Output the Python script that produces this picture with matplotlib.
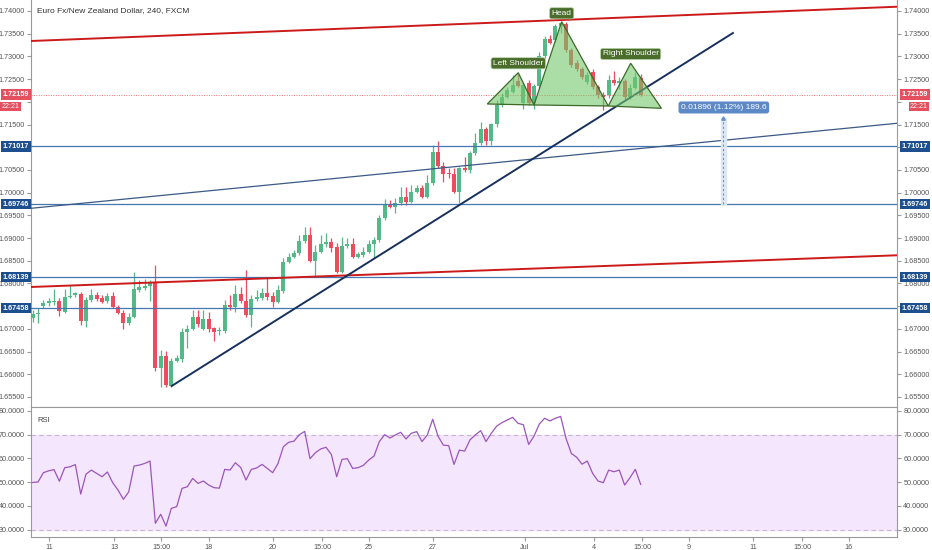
import numpy as np
import matplotlib
matplotlib.use('Agg')
import matplotlib.pyplot as plt
import matplotlib.transforms as mtransforms
from matplotlib.patches import Polygon
from matplotlib.ticker import FormatStrFormatter, FuncFormatter

plt.rcParams['font.family'] = ['Liberation Sans', 'DejaVu Sans']

# EUR/NZD 4h candles (FXCM)
opens = [1.67232, 1.67327, 1.67510, 1.67569, 1.67598, 1.67613, 1.67378, 1.67702, 1.67746, 1.67768,
         1.67180, 1.67636, 1.67746, 1.67680, 1.67613, 1.67724, 1.67488, 1.67356, 1.67129, 1.67261,
         1.67855, 1.67900, 1.67944, 1.68017, 1.66144, 1.66402, 1.65742, 1.66299, 1.66336, 1.66937,
         1.66997, 1.67268, 1.66997, 1.67217, 1.67019, 1.66953, 1.66953, 1.67525, 1.67481, 1.67768,
         1.67613, 1.67305, 1.67658, 1.67686, 1.67796, 1.67724, 1.67598, 1.67840, 1.68472, 1.68589,
         1.68671, 1.68941, 1.69067, 1.68501, 1.68699, 1.68862, 1.68919, 1.68796, 1.68259, 1.68825,
         1.68862, 1.68589, 1.68626, 1.68699, 1.68862, 1.68957, 1.69435, 1.69750, 1.69678, 1.69778,
         1.69910, 1.69800, 1.70020, 1.70095, 1.69910, 1.70205, 1.70902, 1.70586, 1.70426, 1.70410,
         1.70020, 1.70549, 1.70498, 1.70866, 1.71086, 1.71401, 1.71144, 1.71511, 1.71930, 1.72112,
         1.72223, 1.72458, 1.71974, 1.72414, 1.71974, 1.72348, 1.73009, 1.73383, 1.73361, 1.73669,
         1.73714, 1.73141, 1.72855, 1.72723, 1.72436, 1.72656, 1.72326, 1.72150, 1.72150, 1.72480,
         1.72414, 1.72458, 1.72106, 1.72304, 1.72524]
highs = [1.67415, 1.67452, 1.67636, 1.67673, 1.67871, 1.67673, 1.67871, 1.67966, 1.67818, 1.67818,
         1.67708, 1.67871, 1.67812, 1.67746, 1.67790, 1.67818, 1.67525, 1.67415, 1.67343, 1.68259,
         1.68076, 1.68092, 1.68076, 1.68406, 1.66535, 1.66519, 1.66352, 1.66424, 1.67012, 1.67085,
         1.67415, 1.67415, 1.67415, 1.67378, 1.67048, 1.67048, 1.67636, 1.67746, 1.67966, 1.67928,
         1.68296, 1.67746, 1.67855, 1.67893, 1.68114, 1.67818, 1.67966, 1.68554, 1.68664, 1.68737,
         1.69067, 1.69250, 1.69237, 1.68847, 1.69067, 1.69105, 1.68994, 1.68884, 1.69030, 1.68994,
         1.68994, 1.68693, 1.68809, 1.68957, 1.69016, 1.69508, 1.69853, 1.69838, 1.69875, 1.70131,
         1.70131, 1.70168, 1.70168, 1.70168, 1.70388, 1.71049, 1.71144, 1.70681, 1.70536, 1.70536,
         1.70571, 1.70791, 1.70924, 1.71307, 1.71562, 1.71452, 1.71540, 1.72040, 1.72194, 1.72333,
         1.72590, 1.72612, 1.72414, 1.72480, 1.72392, 1.73097, 1.73449, 1.73471, 1.73714, 1.73764,
         1.73750, 1.73185, 1.72921, 1.72767, 1.72656, 1.72723, 1.72370, 1.72216, 1.72590, 1.72678,
         1.72546, 1.72502, 1.72392, 1.72656, 1.72612]
lows = [1.67158, 1.67136, 1.67452, 1.67503, 1.67525, 1.67283, 1.67343, 1.67673, 1.67708, 1.67085,
        1.67048, 1.67598, 1.67613, 1.67569, 1.67569, 1.67452, 1.67327, 1.66990, 1.67085, 1.67232,
        1.67818, 1.67855, 1.67620, 1.66072, 1.65727, 1.65727, 1.65727, 1.66277, 1.66277, 1.66572,
        1.66975, 1.67048, 1.66975, 1.66937, 1.66739, 1.66865, 1.66902, 1.67415, 1.67378, 1.67576,
        1.67268, 1.67034, 1.67620, 1.67636, 1.67636, 1.67475, 1.67562, 1.67783, 1.68443, 1.68560,
        1.68626, 1.68884, 1.68479, 1.68149, 1.68664, 1.68809, 1.68699, 1.68224, 1.68224, 1.68774,
        1.68554, 1.68560, 1.68589, 1.68664, 1.68554, 1.68919, 1.69397, 1.69655, 1.69545, 1.69728,
        1.69728, 1.69765, 1.69985, 1.69875, 1.69875, 1.70168, 1.70536, 1.70241, 1.70315, 1.69998,
        1.69765, 1.70461, 1.70426, 1.70829, 1.71049, 1.71049, 1.71049, 1.71452, 1.71886, 1.72084,
        1.72194, 1.72326, 1.71842, 1.71930, 1.71842, 1.72304, 1.72965, 1.73273, 1.73317, 1.73515,
        1.73097, 1.72767, 1.72678, 1.72502, 1.72392, 1.72282, 1.72084, 1.71820, 1.72084, 1.72370,
        1.72282, 1.72062, 1.72062, 1.72282, 1.72128]
closes = [1.67327, 1.67356, 1.67569, 1.67613, 1.67620, 1.67393, 1.67702, 1.67730, 1.67790, 1.67180,
          1.67636, 1.67746, 1.67651, 1.67598, 1.67724, 1.67488, 1.67356, 1.67122, 1.67261, 1.67878,
          1.67922, 1.67944, 1.68017, 1.66144, 1.66402, 1.65764, 1.66299, 1.66358, 1.66937, 1.66997,
          1.67268, 1.67107, 1.67217, 1.67003, 1.66937, 1.66975, 1.67525, 1.67481, 1.67768, 1.67613,
          1.67305, 1.67658, 1.67708, 1.67796, 1.67708, 1.67598, 1.67855, 1.68479, 1.68589, 1.68671,
          1.68941, 1.69067, 1.68501, 1.68699, 1.68869, 1.68919, 1.68774, 1.68259, 1.68825, 1.68862,
          1.68589, 1.68642, 1.68699, 1.68862, 1.68957, 1.69435, 1.69750, 1.69678, 1.69778, 1.69910,
          1.69800, 1.70020, 1.70095, 1.69910, 1.70205, 1.70902, 1.70586, 1.70410, 1.70404, 1.70020,
          1.70536, 1.70498, 1.70866, 1.71086, 1.71401, 1.71144, 1.71511, 1.71930, 1.72112, 1.72260,
          1.72370, 1.72348, 1.72370, 1.71974, 1.72348, 1.73009, 1.73383, 1.73295, 1.73669, 1.73735,
          1.73141, 1.72811, 1.72723, 1.72546, 1.72590, 1.72326, 1.72150, 1.72106, 1.72480, 1.72414,
          1.72458, 1.72106, 1.72304, 1.72546, 1.72159]
rsi = [49.9, 50.1, 54.0, 54.8, 55.3, 50.4, 56.1, 56.5, 57.4, 45.0,
       53.4, 55.1, 53.7, 52.3, 54.3, 49.8, 46.7, 42.8, 45.9, 56.8,
       57.2, 57.9, 58.9, 32.7, 36.5, 31.5, 39.0, 39.7, 47.4, 48.1,
       51.6, 49.5, 50.5, 48.8, 47.7, 47.5, 55.4, 55.1, 58.2, 56.2,
       50.9, 55.4, 56.0, 57.5, 55.8, 54.0, 57.9, 64.9, 66.8, 67.3,
       70.0, 71.4, 59.9, 62.4, 64.0, 64.7, 61.7, 52.3, 59.6, 59.9,
       55.8, 56.1, 57.1, 59.3, 61.0, 67.1, 70.0, 68.6, 69.9, 71.0,
       68.2, 70.6, 71.3, 67.1, 69.9, 76.5, 69.4, 65.6, 65.4, 57.5,
       63.5, 63.1, 67.8, 69.9, 71.7, 67.1, 70.6, 73.6, 75.1, 76.2,
       77.3, 74.8, 74.2, 65.9, 69.4, 74.5, 76.9, 75.8, 76.9, 77.7,
       68.5, 62.1, 60.5, 57.6, 58.9, 53.7, 50.5, 49.8, 55.1, 54.4,
       55.1, 48.8, 51.9, 55.4, 49.1]

xtick_pos = [3.06, 15.24, 24.06, 33.06, 45.06, 54.25, 63.06, 75.06, 92.31,
             105.25, 114.25, 123.06, 135.06, 144.25, 153.06]
xtick_labels = ['11', '13', '15:00', '18', '20', '15:00', '25', '27', 'Jul',
                '4', '15:00', '9', '11', '15:00', '16']

h_levels = [1.71017, 1.69746, 1.68139, 1.67458]
last_price = 1.72159
last_time = '22:21'
# price scale labels that sit under the coloured boxes
hidden_ticks = [1.72, 1.71, 1.675]

# drawings (bar index, price)
upper_channel = [(-0.32, 1.73339), (162.07, 1.74094)]
lower_channel = [(-0.32, 1.67922), (162.07, 1.68620)]
mid_line = [(-0.32, 1.69655), (162.07, 1.71527)]
trend_line = [(26.06, 1.65742), (131.3, 1.73515)]

left_shoulder = [(85.24, 1.71952), (91.05, 1.72641), (94.0, 1.71930)]
head = [(94.0, 1.71930), (99.19, 1.73764), (107.93, 1.71908)]
right_shoulder = [(107.93, 1.71908), (112.13, 1.72848), (117.9, 1.71857)]
pattern_labels = [('Left Shoulder', 91.05, 1.72848), ('Head', 99.19, 1.73949),
                  ('Right Shoulder', 112.13, 1.73053)]

measure_x = 129.5
measure_low = 1.69746
measure_high = 1.71642
measure_text = '0.01896 (1.12%) 189.6'

green = '#53b987'
red = '#eb4d5c'
axis_grey = '#555555'
spine_grey = '#9a9a9a'

W, H = 932, 550
fig = plt.figure(figsize=(W / 100, H / 100), dpi=100)
ax = fig.add_axes([31 / W, 1 - 407 / H, 866 / W, 407 / H])
ax2 = fig.add_axes([31 / W, 13 / H, 866 / W, 130 / H])

xlim = (-0.32, 162.07)

# ---- candles
o = np.array(opens)
c = np.array(closes)
idx = np.arange(len(c))
col = np.where(c >= o, green, red)
ax.vlines(idx, lows, highs, colors=col, lw=0.9, zorder=2)
ax.bar(idx, np.maximum(np.abs(c - o), 0.00005), bottom=np.minimum(o, c),
       width=0.72, color=col, zorder=3)

# ---- lines
for lvl in h_levels:
    ax.axhline(lvl, color='#4677b0', lw=0.9, zorder=4)
ax.axline(upper_channel[0], upper_channel[1], color='#cc1a1a', lw=1.4, zorder=4)
ax.axline(lower_channel[0], lower_channel[1], color='#cc1a1a', lw=1.4, zorder=4)
ax.axline(mid_line[0], mid_line[1], color='#3b5a85', lw=0.9, zorder=4)
ax.plot([p[0] for p in trend_line], [p[1] for p in trend_line], color='#17305e', lw=1.4, zorder=4)
ax.axhline(last_price, color='#ef6f6f', lw=0.7, ls=(0, (1, 1.5)), zorder=4)

# ---- head and shoulders
for tri in [left_shoulder, head, right_shoulder]:
    ax.add_patch(Polygon(tri, closed=True, fc=(0.45, 0.78, 0.42, 0.6), ec='#3c6a27',
                         lw=0.9, zorder=5))
for txt, x, y in pattern_labels:
    ax.text(x, y, txt, ha='center', va='center', fontsize=6, color='white', zorder=6,
            bbox=dict(boxstyle='round,pad=0.25', fc='#4a6d2c', ec='#b9d4a8', lw=0.5))

# ---- measure tool
ax.fill_betweenx([measure_low, measure_high], measure_x - 0.45, measure_x + 0.45,
                 color='#dce8f6', zorder=4)
ax.plot([measure_x, measure_x], [measure_low, measure_high], color='#6f93c4', lw=0.8,
        ls=(0, (2, 2)), zorder=5)
ax.plot([measure_x], [measure_high], marker='^', ms=2.5, color='#6f93c4', zorder=5)
ax.text(measure_x + 0.1, 1.71875, measure_text, ha='center', va='center', fontsize=6,
        color='white', zorder=6,
        bbox=dict(boxstyle='round,pad=0.3', fc='#5d89c6', ec='none'))

ax.text(6 / 866, 1 - 11 / 407, 'Euro Fx/New Zealand Dollar, 240, FXCM', transform=ax.transAxes,
        ha='left', va='center', fontsize=6, color='#333333')

# ---- price axes
def price_fmt(v, pos):
    if any(abs(v - h) < 1e-6 for h in hidden_ticks):
        return ''
    return f'{v:.5f}'


ax.set_xlim(*xlim)
ax.set_ylim(1.65279, 1.74242)
ax.set_yticks(np.arange(1.655, 1.7401, 0.005))
ax.yaxis.set_major_formatter(FuncFormatter(price_fmt))
ax.tick_params(axis='y', left=True, right=True, labelleft=True, labelright=True,
               labelsize=5.2, labelcolor=axis_grey, color=spine_grey, length=3, pad=1.5)
ax.tick_params(axis='x', bottom=False, labelbottom=False)
for side in ['left', 'right', 'bottom']:
    ax.spines[side].set_color(spine_grey)
ax.spines['top'].set_visible(False)

# price labels on both axes
tr_left = mtransforms.blended_transform_factory(fig.transFigure, ax.transData)
box_blue = dict(boxstyle='square,pad=0.25', fc='#1d4f8e', ec='none')
box_red = dict(boxstyle='square,pad=0.25', fc='#e5505f', ec='none')
for lvl in h_levels:
    for xpx in [16, 915]:
        ax.text(xpx / W, lvl, f'{lvl:.5f}', transform=tr_left, ha='center', va='center',
                fontsize=5.2, color='white', fontweight='bold', zorder=10, clip_on=False,
                bbox=box_blue)
for xpx in [16, 915]:
    ax.text(xpx / W, last_price, f'{last_price:.5f}', transform=tr_left, ha='center',
            va='center', fontsize=5.2, color='white', fontweight='bold', zorder=10,
            clip_on=False, bbox=box_red)
ax.text(1.5 / W, last_price - 0.0026, last_time, transform=tr_left, ha='left', va='center',
        fontsize=5, color='white', zorder=10, clip_on=False,
        bbox=dict(boxstyle='square,pad=0.2', fc='#e5505f', ec='none'))
ax.text(919 / W, last_price - 0.0026, last_time, transform=tr_left, ha='center', va='center',
        fontsize=5, color='white', zorder=10, clip_on=False,
        bbox=dict(boxstyle='square,pad=0.2', fc='#e5505f', ec='none'))

# ---- RSI panel
ax2.axhspan(30, 70, color='#f4e6fc', zorder=0)
ax2.axhline(70, color='#c8b6d4', lw=0.8, ls=(0, (4, 3)), zorder=1)
ax2.axhline(30, color='#c8b6d4', lw=0.8, ls=(0, (4, 3)), zorder=1)
ax2.plot(idx, rsi, color='#9b55bb', lw=0.9, zorder=2)
ax2.text(6 / 866, 1 - 13 / 130, 'RSI', transform=ax2.transAxes, ha='left', va='center',
         fontsize=5.5, color='#444444')
ax2.set_xlim(*xlim)
ax2.set_ylim(26.93, 81.66)
ax2.set_yticks([30, 40, 50, 60, 70, 80])
ax2.yaxis.set_major_formatter(FormatStrFormatter('%.4f'))
ax2.tick_params(axis='y', left=True, right=True, labelleft=True, labelright=True,
                labelsize=5.2, labelcolor=axis_grey, color=spine_grey, length=3, pad=1.5)
ax2.set_xticks(xtick_pos)
ax2.set_xticklabels(xtick_labels)
ax2.tick_params(axis='x', labelsize=5.2, labelcolor=axis_grey, color=spine_grey,
                length=3, pad=2)
for side in ax2.spines:
    ax2.spines[side].set_color(spine_grey)

fig.savefig('out.png', dpi=100)
